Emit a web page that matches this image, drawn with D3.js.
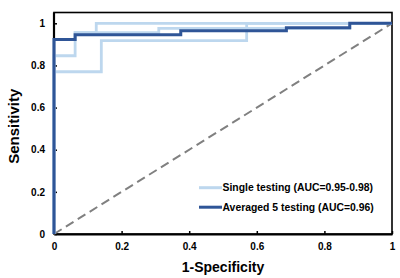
<!DOCTYPE html>
<html>
<head>
<meta charset="utf-8">
<script src="https://cdn.jsdelivr.net/npm/d3@7"></script>
<style>
  html, body { margin: 0; padding: 0; background: #fff; }
  svg { display: block; font-family: "Liberation Sans", Arial, sans-serif; }
</style>
</head>
<body>
<div id="chart"></div>
<script>
// ROC vertices (1-specificity, sensitivity)
const avgFpr = [0, 0, 0.0625, 0.0625, 0.375, 0.375, 0.6875, 0.6875, 0.875, 0.875, 1];
const avgTpr = [0, 0.923, 0.923, 0.946, 0.946, 0.965, 0.965, 0.979, 0.979, 1, 1];

const single1Fpr = [0, 0, 0.14, 0.14, 0.57, 0.57, 1];
const single1Tpr = [0, 0.77, 0.77, 0.918, 0.918, 1, 1];
const single2Fpr = [0, 0, 0.0625, 0.0625, 0.31, 0.31, 0.875, 0.875, 1];
const single2Tpr = [0, 0.846, 0.846, 0.956, 0.956, 0.976, 0.976, 1, 1];
const single3Fpr = [0, 0, 0.0625, 0.0625, 0.125, 0.125, 1];
const single3Tpr = [0, 0.923, 0.923, 0.956, 0.956, 1, 1];

const xTicks = [0, 0.2, 0.4, 0.6, 0.8, 1];
const yTicks = [0, 0.2, 0.4, 0.6, 0.8, 1];
const legendLabels = ['Single testing (AUC=0.95-0.98)', 'Averaged 5 testing (AUC=0.96)'];

const W = 400, H = 278;
const light = '#bdd7ee', dark = '#2f5597';

const svg = d3.select('#chart').append('svg')
  .attr('width', W).attr('height', H);

const x = d3.scaleLinear().domain([0, 1]).range([54, 392]);
const y = d3.scaleLinear().domain([0, 1]).range([234, 23.3]);
const yTop = 12.5;

const toPts = (fx, ty) => fx.map((v, i) => [v, ty[i]]);
const line = d3.line().x(d => x(d[0])).y(d => y(d[1]));

// frame
svg.append('rect')
  .attr('x', x(0)).attr('y', yTop)
  .attr('width', x(1) - x(0)).attr('height', y(0) - yTop)
  .attr('fill', 'none').attr('stroke', '#000').attr('stroke-width', 1.6);

// axes
const fmt = d => d === 0 || d === 1 ? d : d3.format('.1f')(d);
const xAxis = svg.append('g')
  .attr('transform', `translate(0,${y(0)})`)
  .call(d3.axisBottom(x).tickValues(xTicks).tickSizeInner(-3).tickSizeOuter(0)
    .tickPadding(9).tickFormat(fmt));
const yAxis = svg.append('g')
  .attr('transform', `translate(${x(0)},0)`)
  .call(d3.axisLeft(y).tickValues(yTicks).tickSizeInner(-3).tickSizeOuter(0)
    .tickPadding(9).tickFormat(fmt));

[xAxis, yAxis].forEach(g => {
  g.select('.domain').attr('stroke', '#000').attr('stroke-width', 2.2);
  g.selectAll('.tick line').attr('stroke', '#000').attr('stroke-width', 1.5);
  g.selectAll('.tick text')
    .attr('font-family', '"Liberation Sans", Arial, sans-serif')
    .attr('font-size', '10px').attr('font-weight', 'bold').attr('fill', '#000');
});
yAxis.select('.domain').attr('d', `M0,${y(0)}V${yTop}`);

// chance diagonal
svg.append('line')
  .attr('x1', x(0)).attr('y1', y(0)).attr('x2', x(1)).attr('y2', y(1))
  .attr('stroke', '#808080').attr('stroke-width', 2).attr('stroke-dasharray', '9,5');

// single testing curves
[[single1Fpr, single1Tpr], [single2Fpr, single2Tpr], [single3Fpr, single3Tpr]].forEach(([fx, ty]) => {
  svg.append('path')
    .attr('d', line(toPts(fx, ty)))
    .attr('fill', 'none').attr('stroke', light).attr('stroke-width', 2.8);
});

// averaged curve
svg.append('path')
  .attr('d', line(toPts(avgFpr, avgTpr)))
  .attr('fill', 'none').attr('stroke', dark).attr('stroke-width', 3);

// legend
const legend = svg.append('g');
[light, dark].forEach((c, i) => {
  const ly = 187.7 + i * 19.5;
  legend.append('line')
    .attr('x1', 199).attr('x2', 222).attr('y1', ly).attr('y2', ly)
    .attr('stroke', c).attr('stroke-width', 3);
  legend.append('text')
    .attr('x', 222.5).attr('y', ly).attr('dy', '0.35em')
    .attr('font-size', '10.4px').attr('font-weight', 'bold').attr('fill', '#000')
    .text(legendLabels[i]);
});

// axis titles
svg.append('text')
  .attr('x', (x(0) + x(1)) / 2).attr('y', 271.5)
  .attr('text-anchor', 'middle')
  .attr('font-size', '14px').attr('font-weight', 'bold')
  .text('1-Specificity');
svg.append('text')
  .attr('transform', `translate(19,${(yTop + y(0)) / 2 + 3}) rotate(-90)`)
  .attr('text-anchor', 'middle')
  .attr('font-size', '15px').attr('font-weight', 'bold')
  .text('Sensitivity');
</script>
</body>
</html>
